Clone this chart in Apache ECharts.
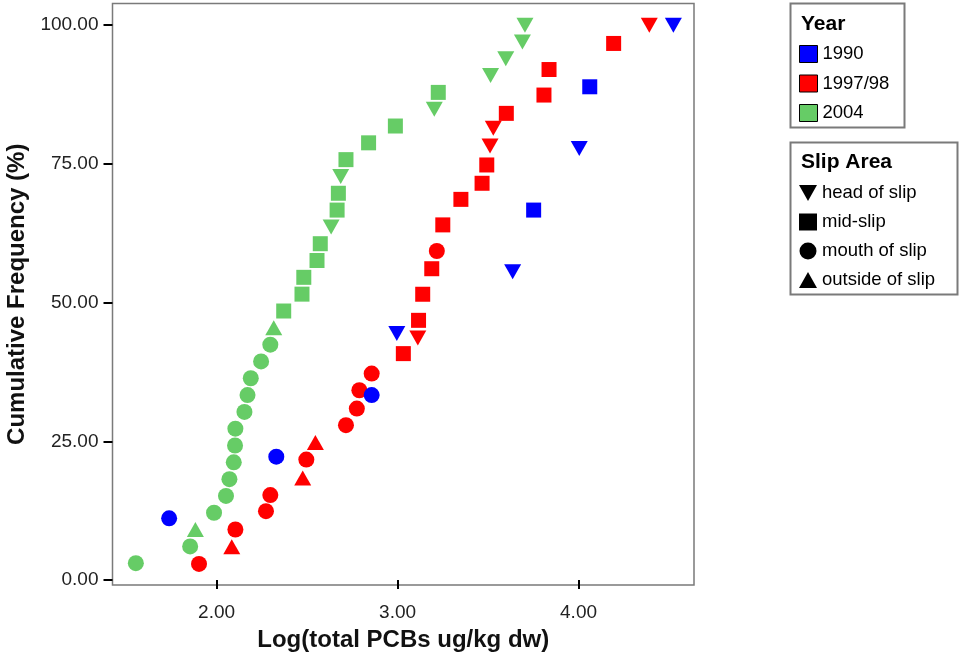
<!DOCTYPE html>
<html>
<head>
<meta charset="utf-8">
<script src="https://cdn.jsdelivr.net/npm/echarts@6/dist/echarts.min.js"></script>
<style>
  html, body { margin: 0; padding: 0; background: #fff; }
  #chart { width: 960px; height: 662px; }
</style>
</head>
<body>
<div id="chart"></div>
<script>
// ---------- data ----------
const years = ['1990', '1997/98', '2004'];
const areas = ['head of slip', 'mid-slip', 'mouth of slip', 'outside of slip'];
const xTicks = [2, 3, 4];
const yTicks = [0, 25, 50, 75, 100];

// 1990
const pcb1990  = [1.738, 2.330, 2.857, 2.996, 3.636, 3.752, 4.004, 4.062, 4.524];
const freq1990 = [11.11, 22.22, 33.33, 44.44, 55.56, 66.67, 77.78, 88.89, 100];
const area1990 = ['mouth of slip', 'mouth of slip', 'mouth of slip', 'head of slip', 'head of slip',
                  'mid-slip', 'head of slip', 'mid-slip', 'head of slip'];

// 1997/98
const pcb9798  = [1.903, 2.084, 2.104, 2.273, 2.297, 2.476, 2.496, 2.546, 2.715, 2.775, 2.789, 2.857,
                  3.032, 3.112, 3.116, 3.139, 3.189, 3.217, 3.250, 3.350, 3.467, 3.493, 3.511, 3.529,
                  3.601, 3.809, 3.837, 4.194, 4.391];
const freq9798 = [2.9, 6.0, 9.1, 12.4, 15.3, 18.4, 21.7, 24.8, 27.9, 30.9, 34.2, 37.2,
                  40.8, 43.6, 46.8, 51.5, 56.1, 59.3, 64.0, 68.6, 71.5, 74.8, 78.2, 81.4,
                  84.1, 87.4, 92.0, 96.7, 100];
const area9798 = ['mouth of slip', 'outside of slip', 'mouth of slip', 'mouth of slip', 'mouth of slip',
                  'outside of slip', 'mouth of slip', 'outside of slip', 'mouth of slip', 'mouth of slip',
                  'mouth of slip', 'mouth of slip', 'mid-slip', 'head of slip', 'mid-slip', 'mid-slip',
                  'mid-slip', 'mouth of slip', 'mid-slip', 'mid-slip', 'mid-slip', 'mid-slip',
                  'head of slip', 'head of slip', 'mid-slip', 'mid-slip', 'mid-slip', 'mid-slip',
                  'head of slip'];

// 2004
const pcb2004  = [1.554, 1.854, 1.883, 1.986, 2.052, 2.071, 2.095, 2.102, 2.104, 2.154, 2.171, 2.189,
                  2.246, 2.297, 2.316, 2.371, 2.472, 2.482, 2.555, 2.573, 2.633, 2.666, 2.673, 2.686,
                  2.715, 2.840, 2.988, 3.203, 3.225, 3.514, 3.598, 3.690, 3.704];
const freq2004 = [3.03, 6.06, 9.09, 12.12, 15.15, 18.18, 21.21, 24.24, 27.27, 30.30, 33.33, 36.36,
                  39.39, 42.42, 45.45, 48.48, 51.52, 54.55, 57.58, 60.61, 63.64, 66.67, 69.70, 72.73,
                  75.76, 78.79, 81.82, 84.85, 87.88, 90.91, 93.94, 96.97, 100];
const area2004 = ['mouth of slip', 'mouth of slip', 'outside of slip', 'mouth of slip', 'mouth of slip',
                  'mouth of slip', 'mouth of slip', 'mouth of slip', 'mouth of slip', 'mouth of slip',
                  'mouth of slip', 'mouth of slip', 'mouth of slip', 'mouth of slip', 'outside of slip',
                  'mid-slip', 'mid-slip', 'mid-slip', 'mid-slip', 'mid-slip', 'head of slip',
                  'mid-slip', 'mid-slip', 'head of slip', 'mid-slip', 'mid-slip', 'mid-slip',
                  'head of slip', 'mid-slip', 'head of slip', 'head of slip', 'head of slip',
                  'head of slip'];

// ---------- styles ----------
const yearColor = { '1990': '#0000ff', '1997/98': '#ff0000', '2004': '#66cc66' };
const areaSymbol = {
  'head of slip':    { symbol: 'triangle', size: [17, 15], rotate: 180, icon: 'path://M0,0L18,0L9,16Z' },
  'mid-slip':        { symbol: 'rect',     size: 15,       rotate: 0,   icon: 'rect' },
  'mouth of slip':   { symbol: 'circle',   size: 16,       rotate: 0,   icon: 'circle' },
  'outside of slip': { symbol: 'triangle', size: [17, 15], rotate: 0,   icon: 'path://M9,0L18,16L0,16Z' }
};
const font = "'Liberation Sans', Arial, Helvetica, sans-serif";

const yearData = [
  { year: '2004',    pcb: pcb2004, freq: freq2004, area: area2004 },
  { year: '1997/98', pcb: pcb9798, freq: freq9798, area: area9798 },
  { year: '1990',    pcb: pcb1990, freq: freq1990, area: area1990 }
];

const series = [];
yearData.forEach(function (yd) {
  areas.forEach(function (a) {
    const pts = [];
    yd.pcb.forEach(function (v, i) { if (yd.area[i] === a) pts.push([v, yd.freq[i]]); });
    if (!pts.length) return;
    const s = areaSymbol[a];
    series.push({
      type: 'scatter',
      name: yd.year + ' / ' + a,
      data: pts,
      symbol: s.symbol,
      symbolSize: s.size,
      symbolRotate: s.rotate,
      itemStyle: { color: yearColor[yd.year], opacity: 1 },
      emphasis: { disabled: true },
      z: 3
    });
  });
});
// legend-only series
years.forEach(function (y) {
  series.push({ type: 'scatter', name: y, data: [], itemStyle: { color: yearColor[y], opacity: 1 } });
});
areas.forEach(function (a) {
  series.push({ type: 'scatter', name: a, data: [], itemStyle: { color: '#000', opacity: 1 } });
});

const option = {
  animation: false,
  backgroundColor: '#fff',
  grid: {
    left: 112.5, top: 3.5, right: 266, bottom: 77,
    outerBoundsMode: 'none', containLabel: false,
    show: true, borderColor: '#7a7a7a', borderWidth: 1.5, backgroundColor: '#fff'
  },
  xAxis: {
    type: 'value', min: 1.425, max: 4.638,
    axisLine: { show: false },
    splitLine: { show: false },
    axisTick: { show: true, customValues: xTicks, length: 9, lineStyle: { color: '#000', width: 2 } },
    axisLabel: {
      customValues: xTicks, formatter: function (v) { return v.toFixed(2); },
      margin: 18, fontFamily: font, fontSize: 19, color: '#222'
    },
    name: 'Log(total PCBs ug/kg dw)', nameLocation: 'middle', nameGap: 43,
    nameTextStyle: { fontFamily: font, fontSize: 24, fontWeight: 'bold', color: '#111' }
  },
  yAxis: {
    type: 'value', min: -0.9, max: 103.9,
    axisLine: { show: false },
    splitLine: { show: false },
    axisTick: { show: true, customValues: yTicks, length: 9, lineStyle: { color: '#000', width: 2 } },
    axisLabel: {
      customValues: yTicks, formatter: function (v) { return v.toFixed(2); },
      margin: 14, fontFamily: font, fontSize: 19, color: '#222'
    },
    name: 'Cumulative Frequency (%)', nameLocation: 'middle', nameGap: 72,
    nameTextStyle: { fontFamily: font, fontSize: 24, fontWeight: 'bold', color: '#111' }
  },
  title: [
    { text: 'Year', left: 801, top: 14, padding: 0,
      textStyle: { fontFamily: font, fontSize: 21, fontWeight: 'bold', color: '#000' } },
    { text: 'Slip Area', left: 801, top: 152, padding: 0,
      textStyle: { fontFamily: font, fontSize: 21, fontWeight: 'bold', color: '#000' } }
  ],
  legend: [
    {
      orient: 'vertical', left: 799, top: 44.5, padding: 0,
      itemWidth: 18, itemHeight: 17, itemGap: 10.5, selectedMode: false,
      textStyle: { fontFamily: font, fontSize: 18.5, color: '#000', lineHeight: 17 },
      data: years.map(function (y) {
        return { name: y, icon: 'rect',
                 itemStyle: { color: yearColor[y], opacity: 1, borderColor: '#000', borderWidth: 1 } };
      })
    },
    {
      orient: 'vertical', left: 799, top: 183.5, padding: 0,
      itemWidth: 18, itemHeight: 17, itemGap: 10, selectedMode: false,
      textStyle: { fontFamily: font, fontSize: 18.5, color: '#000', lineHeight: 17 },
      data: areas.map(function (a) {
        return { name: a, icon: areaSymbol[a].icon, itemStyle: { color: '#000', opacity: 1 } };
      })
    }
  ],
  graphic: [
    { type: 'rect', z: -10, shape: { x: 790.5, y: 3.5, width: 114, height: 124 },
      style: { fill: '#fff', stroke: '#7a7a7a', lineWidth: 2 } },
    { type: 'rect', z: -10, shape: { x: 790.5, y: 142.5, width: 167, height: 152 },
      style: { fill: '#fff', stroke: '#7a7a7a', lineWidth: 2 } }
  ],
  series: series
};

const chart = echarts.init(document.getElementById('chart'));
chart.setOption(option);
</script>
</body>
</html>
